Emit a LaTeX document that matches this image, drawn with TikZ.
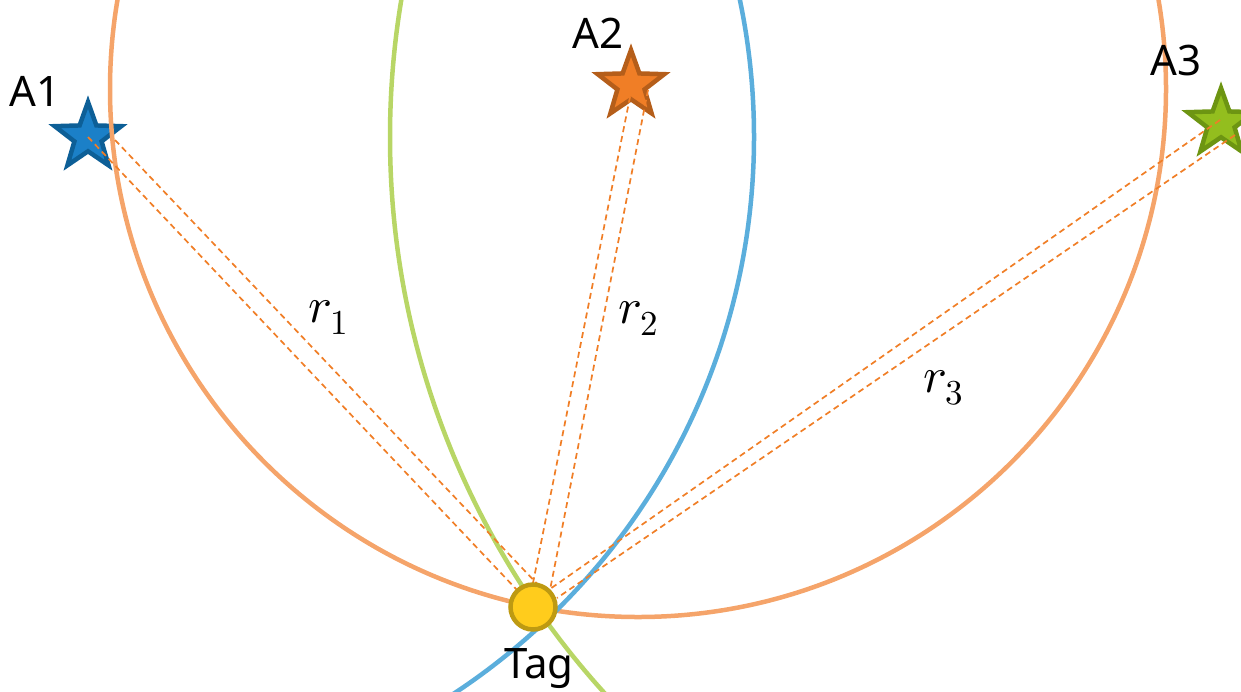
\documentclass[tikz,border=0pt]{standalone}
\usepackage{fontspec}
\usepackage{unicode-math}
\setmainfont{Noto Sans}
\setmathfont{Latin Modern Math}
\usetikzlibrary{shapes.geometric}
\definecolor{aonefill}{HTML}{1B80C8}
\definecolor{aoneline}{HTML}{0D5F97}
\definecolor{atwofill}{HTML}{F07E26}
\definecolor{atwoline}{HTML}{B55E1A}
\definecolor{athreefill}{HTML}{93BE1E}
\definecolor{athreeline}{HTML}{6D9512}
\definecolor{orangecirc}{HTML}{F5A46A}
\definecolor{bluecirc}{HTML}{5BAEDC}
\definecolor{greencirc}{HTML}{B8D666}
\definecolor{dashcol}{HTML}{F07E26}
\definecolor{tagfill}{HTML}{FFCC1C}
\definecolor{tagline}{HTML}{BE9A12}
\begin{document}
\begin{tikzpicture}[x=1pt,y=-1pt,
  anchorstar/.style={star, star points=5, star point ratio=2.45, minimum size=70pt, inner sep=0pt, line width=4.5pt},
  rangecirc/.style={line width=4.5pt},
  rangeline/.style={draw=dashcol, line width=1.7pt, dash pattern=on 6pt off 4pt},
  tagnode/.style={circle, draw=tagline, fill=tagfill, line width=4.5pt, minimum size=45pt, inner sep=0pt},
  lab/.style={font=\fontsize{42}{50}\selectfont, inner sep=0pt},
  rlab/.style={font=\fontsize{50}{60}\selectfont, inner sep=0pt, anchor=base west}]
\useasboundingbox (0,0) rectangle (1241,691);
\clip (0,0) rectangle (1241,691);
% anchors
\node[anchorstar, draw=aoneline, fill=aonefill] (A1) at (88,137) {};
\node[anchorstar, draw=atwoline, fill=atwofill] (A2) at (631,85) {};
\node[anchorstar, draw=athreeline, fill=athreefill] (A3) at (1221,123) {};
% circle centres
\coordinate (C1) at (88,137);
\coordinate (C2) at (638,89);
\coordinate (C3) at (1218,137);
\draw[rangecirc, draw=orangecirc] (C2) circle[radius=528];
\draw[rangecirc, draw=bluecirc] (C1) circle[radius=666];
\draw[rangecirc, draw=greencirc] (C3) circle[radius=828];
% dashed range lines
\coordinate (s1a) at (88,137);  \coordinate (e1a) at (517,590);
\coordinate (s1b) at (115,140); \coordinate (e1b) at (543,590);
\coordinate (s2a) at (632,87);  \coordinate (e2a) at (533,583);
\coordinate (s2b) at (648,90);  \coordinate (e2b) at (550,590);
\coordinate (s3a) at (1220,120); \coordinate (e3a) at (550,589);
\coordinate (s3b) at (1235,135); \coordinate (e3b) at (557,598);
\draw[rangeline] (s1a) -- (e1a);
\draw[rangeline] (s1b) -- (e1b);
\draw[rangeline] (s2a) -- (e2a);
\draw[rangeline] (s2b) -- (e2b);
\draw[rangeline] (s3a) -- (e3a);
\draw[rangeline] (s3b) -- (e3b);
% tag
\node[tagnode] (T) at (533,607) {};
% labels
\node[lab] (L1) at (35,91) {A1};
\node[lab] (L2) at (598,33) {A2};
\node[lab] (L3) at (1176,61) {A3};
\node[lab, anchor=base] (LT) at (539,678) {Tag};
\node[rlab] (R1) at (308,322) {$r_1$};
\node[rlab] (R2) at (618,323) {$r_2$};
\node[rlab] (R3) at (923,392) {$r_3$};
\end{tikzpicture}
\end{document}
